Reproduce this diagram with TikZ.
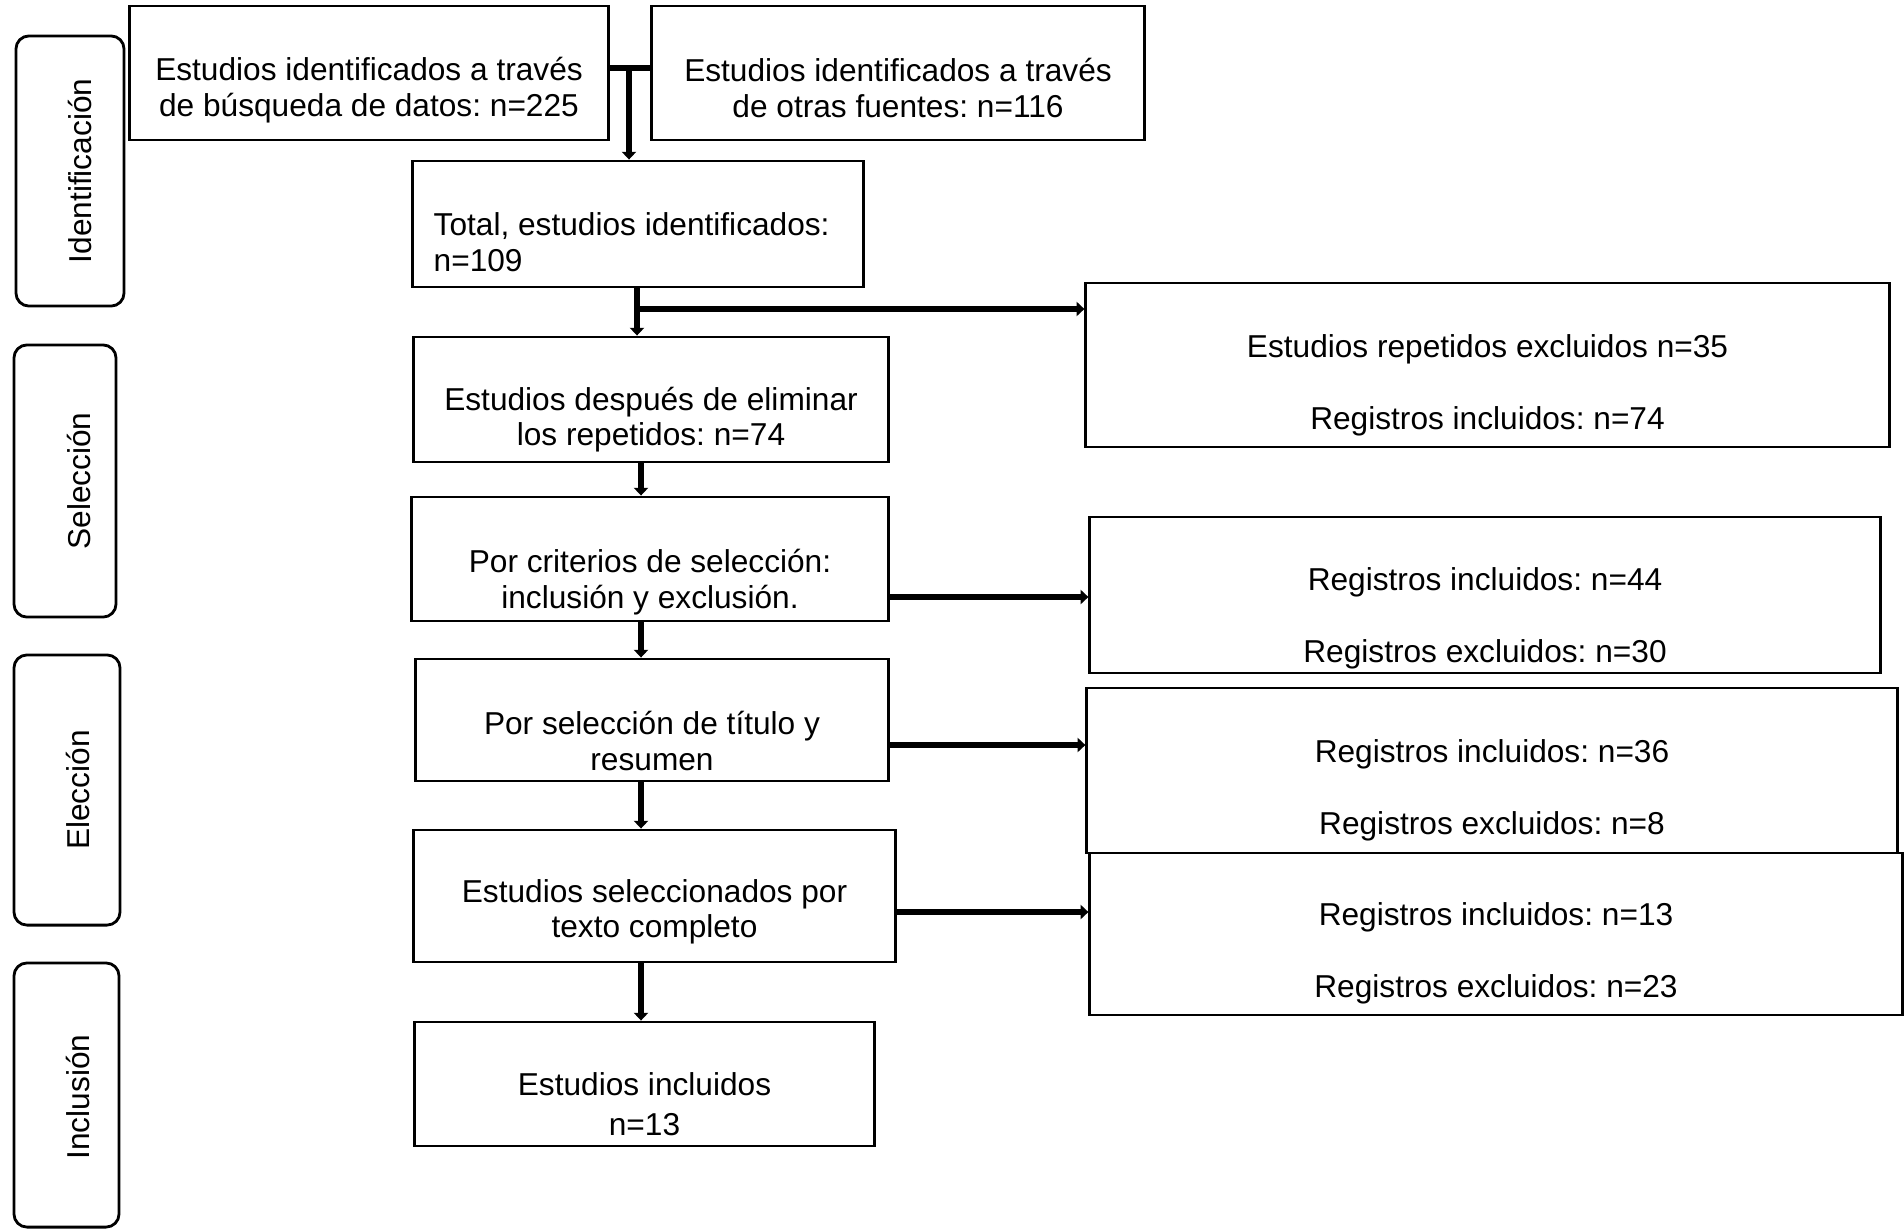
\documentclass[tikz,border=0pt]{standalone}
\usepackage{fontspec}
\setmainfont{Liberation Sans}
\usetikzlibrary{arrows.meta}
\frenchspacing

\begin{document}
\begin{tikzpicture}[x=0.01cm, y=-0.01cm, >={Triangle[width=4pt,length=2.2pt]},
        caja/.style={draw, line width=0.8pt, inner sep=0pt},
        etapa/.style={draw, line width=0.8pt, rounded corners=0.13cm, inner sep=0pt},
        texto/.style={inner sep=0pt, align=center, font=\fontsize{9pt}{10.1pt}\selectfont},
        flecha/.style={->, line width=1.9pt}]

        \useasboundingbox (0,0) rectangle (1904,1230);

        % ==================== 左侧阶段框 ====================
        \node[etapa, minimum width=1.08cm, minimum height=2.70cm] (ident) at (70,171) {};
        \node[texto, rotate=90] (ident-t) at (80,171) {Identificación};

        \node[etapa, minimum width=1.02cm, minimum height=2.72cm] (selec) at (65,481) {};
        \node[texto, rotate=90] (selec-t) at (79,481) {Selección};

        \node[etapa, minimum width=1.06cm, minimum height=2.70cm] (elec) at (67,790) {};
        \node[texto, rotate=90] (elec-t) at (78,790) {Elección};

        \node[etapa, minimum width=1.05cm, minimum height=2.64cm] (incl) at (66.5,1095) {};
        \node[texto, rotate=90] (incl-t) at (78,1097) {Inclusión};

        % ==================== 中间主流程 ====================
        % 两个来源
        \node[caja, minimum width=4.78cm, minimum height=1.34cm] (datos) at (369,73) {};
        \node[texto] (datos-t) at (369,90) {Estudios identificados a través\\de búsqueda de datos: n=225};

        \node[caja, minimum width=4.92cm, minimum height=1.34cm] (fuentes) at (898,73) {};
        \node[texto] (fuentes-t) at (898,88) {Estudios identificados a través\\de otras fuentes: n=116};

        % 合计
        \node[caja, minimum width=4.50cm, minimum height=1.26cm] (total) at (638,224) {};
        \node[texto, align=left, anchor=west] (total-t) at (433,242) {Total, estudios identificados:\\n=109};

        % 去重以后
        \node[caja, minimum width=4.74cm, minimum height=1.25cm] (despues) at (651,399.5) {};
        \node[texto] (despues-t) at (651,419.5) {Estudios después de eliminar\\los repetidos: n=74};

        \node[caja, minimum width=4.76cm, minimum height=1.24cm] (criterios) at (650,559) {};
        \node[texto] (criterios-t) at (650,582) {Por criterios de selección:\\inclusión y exclusión.};

        \node[caja, minimum width=4.72cm, minimum height=1.22cm] (titulo) at (652,720) {};
        \node[texto] (titulo-t) at (652,741) {Por selección de título y\\resumen};

        \node[caja, minimum width=4.81cm, minimum height=1.32cm] (completo) at (654.5,896) {};
        \node[texto] (completo-t) at (654.5,912) {Estudios seleccionados por\\texto completo};

        \node[caja, minimum width=4.59cm, minimum height=1.24cm] (incluidos) at (644.5,1084) {};
        \node[texto] (incluidos-t) at (644.5,1104) {Estudios incluidos\\[1.3pt]n=13};

        % ==================== 右侧排除框 ====================
        \node[caja, minimum width=8.03cm, minimum height=1.64cm] (rep) at (1487.5,365) {};
        \node[texto] (rep-t) at (1487.5,385) {Estudios repetidos excluidos n=35\\[10.4pt]Registros incluidos: n=74};

        \node[caja, minimum width=7.90cm, minimum height=1.56cm] (r44) at (1485,595) {};
        \node[texto] (r44-t) at (1485,618) {Registros incluidos: n=44\\[10.4pt]Registros excluidos: n=30};

        \node[caja, minimum width=8.10cm, minimum height=1.65cm] (r36) at (1492,770.5) {};
        \node[texto] (r36-t) at (1492,790) {Registros incluidos: n=36\\[10.4pt]Registros excluidos: n=8};

        \node[caja, minimum width=8.12cm, minimum height=1.62cm] (r13) at (1496,934) {};
        \node[texto] (r13-t) at (1496,953) {Registros incluidos: n=13\\[10.4pt]Registros excluidos: n=23};

        % ==================== 连接箭头 ====================
        % T 形连接
        \coordinate (t1) at (629,68);
        \draw[line width=1.9pt] (t1 -| datos.east) -- (t1 -| fuentes.west);
        \draw[flecha] (t1) -- (t1 |- total.north);

        % 合计 -> 去重 / 重复排除
        \coordinate (t2) at (637,309);
        \draw[flecha] (t2 |- total.south) -- (t2 |- despues.north);
        \draw[flecha] (t2) -- (t2 -| rep.west);

        % 竖直箭头
        \coordinate (eje) at (641,0);
        \draw[flecha] (despues.south -| eje) -- (criterios.north -| eje);
        \draw[flecha] (criterios.south -| eje) -- (titulo.north -| eje);
        \draw[flecha] (titulo.south -| eje) -- (completo.north -| eje);
        \draw[flecha] (completo.south -| eje) -- (incluidos.north -| eje);

        % 水平箭头
        \coordinate (f44) at (0,597);
        \coordinate (f36) at (0,745);
        \coordinate (f13) at (0,912);
        \draw[flecha] (criterios.east |- f44) -- (r44.west |- f44);
        \draw[flecha] (titulo.east |- f36) -- (r36.west |- f36);
        \draw[flecha] (completo.east |- f13) -- (r13.west |- f13);

    \end{tikzpicture}
\end{document}
